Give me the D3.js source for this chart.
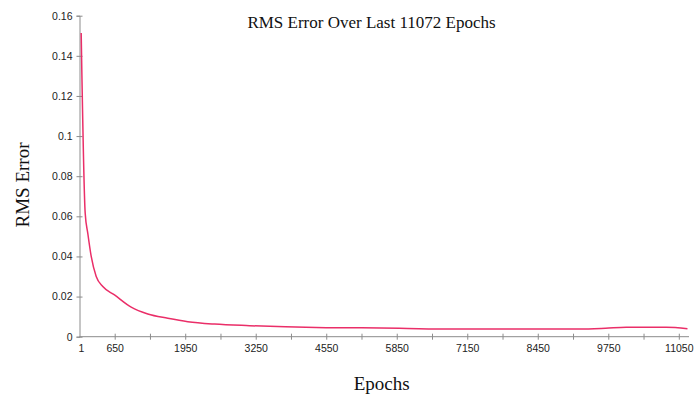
<!DOCTYPE html>
<html>
<head>
<meta charset="utf-8">
<script src="https://cdn.jsdelivr.net/npm/d3@7"></script>
<style>
  html, body { margin: 0; padding: 0; background: #fff; }
  svg { display: block; }
</style>
</head>
<body>
<svg id="chart" width="698" height="394"></svg>
<script>
// ---- data ----
const epochs   = [32, 106, 154, 217, 309, 431, 646, 954, 1260, 1629, 1998, 2490, 3135, 3800, 4550, 5200, 5900, 6822, 7868, 8600, 9220, 9700, 10080, 10818, 11210];
const rmsError = [0.1514, 0.0615, 0.0515, 0.040, 0.030, 0.025, 0.0208, 0.0147, 0.0113, 0.0092, 0.0075, 0.0063, 0.0055, 0.0049, 0.0045, 0.0044, 0.0042, 0.0038, 0.0038, 0.0039, 0.0038, 0.0042, 0.0047, 0.0047, 0.0040];
const xLabelTicks = [1, 650, 1950, 3250, 4550, 5850, 7150, 8450, 9750, 11050];
const xMinorTicks = [1300, 2600, 3900, 5200, 6500, 7800, 9100, 10400];
const yTicks = [0, 0.02, 0.04, 0.06, 0.08, 0.1, 0.12, 0.14, 0.16];
const titleText = "RMS Error Over Last 11072 Epochs";
const xTitle = "Epochs";
const yTitle = "RMS Error";

(function () {
const svg = d3.select("#chart");
const mLeft = 79.5, mRight = 689, mTop = 15.7, mBottom = 336.7;

const x = d3.scaleLinear().domain([1, 1 + (mRight - mLeft) / 0.05424]).range([mLeft, mRight]);
const y = d3.scaleLinear().domain([0, 0.16]).range([mBottom, mTop]);

const axisColor = "#8c8c8c";
const tickFont = "'Liberation Sans', Arial, sans-serif";
const serif = "'Liberation Serif', 'Times New Roman', serif";

// y axis
const yAxis = d3.axisLeft(y).tickValues(yTicks).tickSize(3)
  .tickFormat(d => d === 0 ? "0" : String(+d.toFixed(2)));
const gy = svg.append("g").attr("transform", `translate(${mLeft},0)`).call(yAxis);
gy.select(".domain").attr("stroke", axisColor);
gy.selectAll(".tick line").attr("stroke", axisColor).attr("x2", 3).attr("x1", -3);
gy.selectAll(".tick text").attr("x", -7).attr("fill", "#222")
  .style("font-family", tickFont).style("font-size", "10.5px");

// x axis
const xAxis = d3.axisBottom(x).tickValues(xLabelTicks.concat(xMinorTicks)).tickSize(3)
  .tickFormat(d => xLabelTicks.includes(d) ? String(d) : "");
const gx = svg.append("g").attr("transform", `translate(0,${mBottom})`).call(xAxis);
gx.select(".domain").attr("stroke", axisColor).attr("d", `M${mLeft},0H${mRight}`);
gx.selectAll(".tick line").attr("stroke", axisColor).attr("y1", -3).attr("y2", 3);
gx.selectAll(".tick text").attr("y", 8).attr("fill", "#222")
  .style("font-family", tickFont).style("font-size", "10.5px");
gx.selectAll(".tick").filter(d => d === 1).select("line").remove();
gx.selectAll(".tick").filter(d => d === 1).select("text").attr("dx", 1.5);

// line
const line = d3.line().x((d, i) => x(epochs[i])).y(d => y(d)).curve(d3.curveMonotoneX);
svg.append("path").datum(rmsError)
  .attr("fill", "none").attr("stroke", "#ea2e68").attr("stroke-width", 1.5)
  .attr("d", line);

// titles
svg.append("text").attr("x", 371.5).attr("y", 28).attr("text-anchor", "middle")
  .style("font-family", serif).style("font-size", "17px").attr("fill", "#111").text(titleText);
svg.append("text").attr("x", 381.7).attr("y", 390).attr("text-anchor", "middle")
  .style("font-family", serif).style("font-size", "19px").attr("fill", "#111").text(xTitle);
svg.append("text").attr("transform", "translate(29,185) rotate(-90)").attr("text-anchor", "middle")
  .style("font-family", serif).style("font-size", "19px").attr("fill", "#111").text(yTitle);
})();
</script>
</body>
</html>
